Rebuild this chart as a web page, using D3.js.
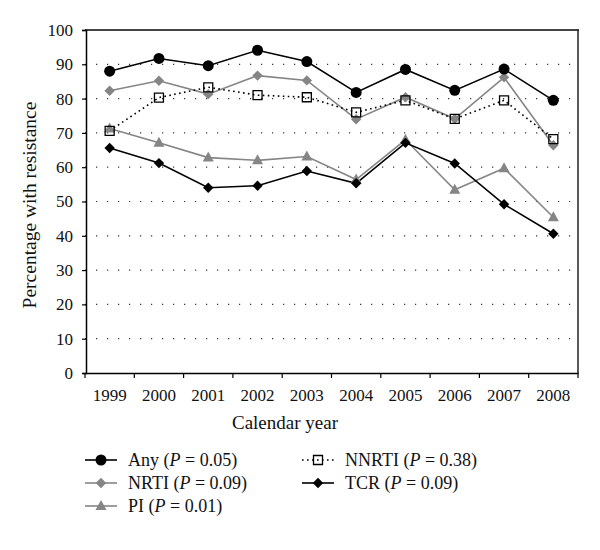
<!DOCTYPE html>
<html><head><meta charset="utf-8">
<script src="https://cdn.jsdelivr.net/npm/d3@7"></script>
<style>body{margin:0;background:#fff}svg{display:block}</style>
</head><body><div id="chart"></div>
<script>
const years = ["1999","2000","2001","2002","2003","2004","2005","2006","2007","2008"];
const anyVals   = [88.0, 91.7, 89.6, 94.1, 90.8, 81.8, 88.5, 82.4, 88.6, 79.5];
const nrtiVals  = [82.3, 85.2, 81.3, 86.7, 85.3, 74.0, 80.4, 74.1, 86.2, 66.4];
const nnrtiVals = [70.6, 80.3, 83.3, 81.0, 80.4, 76.0, 79.5, 74.1, 79.5, 68.2];
const piVals    = [71.3, 67.1, 62.8, 62.0, 63.1, 56.4, 68.0, 53.4, 59.7, 45.4];
const tcrVals   = [65.6, 61.2, 54.0, 54.6, 58.9, 55.3, 67.1, 61.1, 49.2, 40.6];
const yTicks = [0,10,20,30,40,50,60,70,80,90,100];
const seriesNames = ["Any","NRTI","PI","NNRTI","TCR"];
const pLabels = ["0.05","0.09","0.01","0.38","0.09"];

const FONT='"Liberation Serif", "Times New Roman", serif';
const W=600,H=550;
const svg=d3.select("#chart").append("svg").attr("width",W).attr("height",H)
  .style("font-family",FONT);
const x=d3.scaleBand().domain(years).range([85,578]).padding(0);
const y=d3.scaleLinear().domain([0,100]).range([373,30]);

// gridlines
svg.append("g").selectAll("line").data(yTicks.filter(t=>t>0&&t<100)).join("line")
  .attr("x1",x.range()[0]).attr("x2",x.range()[1])
  .attr("y1",d=>y(d)).attr("y2",d=>y(d))
  .attr("stroke","#333").attr("stroke-width",1.2).attr("stroke-dasharray","1.2,9.8");

// frame top/right
svg.append("line").attr("x1",85).attr("x2",579).attr("y1",y(100)).attr("y2",y(100)).attr("stroke","#444").attr("stroke-width",2);
svg.append("line").attr("x1",578).attr("x2",578).attr("y1",y(100)).attr("y2",y(0)).attr("stroke","#222").attr("stroke-width",1.5);

// y axis
const yAxis=svg.append("g").attr("transform","translate(86,0)")
  .call(d3.axisLeft(y).tickValues(yTicks).tickSize(4).tickPadding(9));
yAxis.attr("font-family",null).attr("font-size",null);
yAxis.select(".domain").attr("stroke","#000").attr("stroke-width",1.5);
yAxis.selectAll(".tick line").attr("stroke","#000").attr("stroke-width",1.2);
yAxis.selectAll("text").style("font-family",FONT).style("font-size","17px").attr("fill","#111");

// x axis
const xAxis=svg.append("g").attr("transform","translate(0,373)")
  .call(d3.axisBottom(x).tickSize(0).tickPadding(16));
xAxis.attr("font-family",null).attr("font-size",null);
xAxis.select(".domain").attr("stroke","#000").attr("stroke-width",1.5);
xAxis.selectAll("text").style("font-family",FONT).style("font-size","17px").attr("fill","#111");
const bounds=years.map(d=>x(d)).concat([x.range()[1]]);
svg.append("g").selectAll("line").data(bounds).join("line")
  .attr("x1",d=>d).attr("x2",d=>d).attr("y1",373).attr("y2",378)
  .attr("stroke","#000").attr("stroke-width",1.2);

// axis titles
svg.append("text").attr("x",285).attr("y",429).attr("text-anchor","middle")
  .style("font-family",FONT).style("font-size","19px").attr("fill","#111").text("Calendar year");
svg.append("text").attr("transform","translate(36,205) rotate(-90)").attr("text-anchor","middle")
  .style("font-family",FONT).style("font-size","19.5px").attr("fill","#111").text("Percentage with resistance");

const cx=d=>x(d)+x.bandwidth()/2;
const line=d3.line().x((d,i)=>cx(years[i])).y(d=>y(d));

const series=[
  {vals:piVals,color:"#858585",dash:null,shape:"tri"},
  {vals:nrtiVals,color:"#858585",dash:null,shape:"dia"},
  {vals:tcrVals,color:"#000",dash:null,shape:"dia"},
  {vals:anyVals,color:"#000",dash:null,shape:"circ"},
  {vals:nnrtiVals,color:"#000",dash:"1.6,3.4",shape:"sq"}
];
const shapes={
  tri:"M0,-6L5.5,4L-5.5,4Z",
  dia:"M0,-5.2L5.2,0L0,5.2L-5.2,0Z",
  circ:d3.symbol().type(d3.symbolCircle).size(95)(),
  sq:"M-4.5,-4.5H4.5V4.5H-4.5Z"
};
function drawMarker(g,shape,color){
  const p=g.append("path").attr("d",shapes[shape]);
  if(shape==="sq") p.attr("fill","none").attr("stroke","#000").attr("stroke-width",1.3);
  else p.attr("fill",color);
}
series.forEach(s=>{
  svg.append("path").datum(s.vals).attr("d",line).attr("fill","none")
    .attr("stroke",s.color).attr("stroke-width",1.6)
    .attr("stroke-dasharray",s.dash);
});
series.forEach(s=>{
  s.vals.forEach((v,i)=>{
    const g=svg.append("g").attr("transform",`translate(${cx(years[i])},${y(v)})`);
    drawMarker(g,s.shape,s.color);
  });
});

// legend
const legendItems=[
  {name:seriesNames[0],p:pLabels[0],color:"#000",shape:"circ",dash:null,x:85,y:460},
  {name:seriesNames[1],p:pLabels[1],color:"#858585",shape:"dia",dash:null,x:85,y:483},
  {name:seriesNames[2],p:pLabels[2],color:"#858585",shape:"tri",dash:null,x:85,y:506},
  {name:seriesNames[3],p:pLabels[3],color:"#000",shape:"sq",dash:"1.6,3.4",x:302,y:460},
  {name:seriesNames[4],p:pLabels[4],color:"#000",shape:"dia",dash:null,x:302,y:483}
];
legendItems.forEach(it=>{
  const g=svg.append("g").attr("transform",`translate(${it.x},${it.y})`);
  g.append("line").attr("x1",0).attr("x2",32).attr("stroke",it.color).attr("stroke-width",1.6).attr("stroke-dasharray",it.dash);
  const m=g.append("g").attr("transform","translate(16,0)");
  drawMarker(m,it.shape,it.color);
  const t=g.append("text").attr("x",43).attr("y",6).style("font-family",FONT).style("font-size","18px").attr("fill","#111");
  t.append("tspan").text(it.name+" (");
  t.append("tspan").style("font-style","italic").text("P");
  t.append("tspan").text(" = "+it.p+")");
});
</script></body></html>
